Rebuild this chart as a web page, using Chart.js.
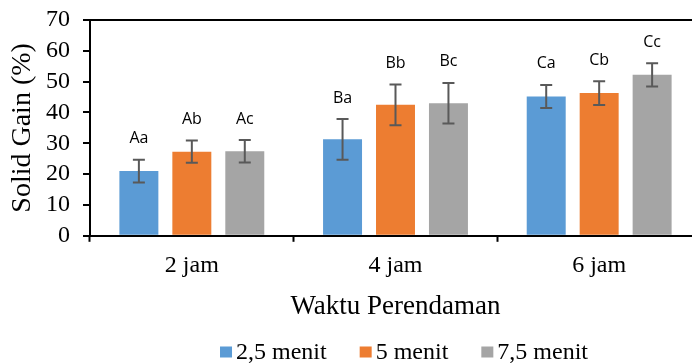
<!DOCTYPE html>
<html>
<head>
<meta charset="utf-8">
<script src="https://cdn.jsdelivr.net/npm/chart.js@4.4.1/dist/chart.umd.min.js"></script>
<style>
  html, body { margin: 0; padding: 0; background: #fff; overflow: hidden; }
  #wrap { position: relative; width: 702px; height: 364px; }
</style>
</head>
<body>
<div id="wrap"><canvas id="c" width="702" height="364"></canvas></div>
<script>
const categories = ['2 jam', '4 jam', '6 jam'];
const seriesNames = ['2,5 menit', '5 menit', '7,5 menit'];
const values25 = [21.0, 31.3, 45.2];
const values5 = [27.3, 42.5, 46.3];
const values75 = [27.4, 43.0, 52.2];
const errors25 = [3.7, 6.6, 3.75];
const errors5 = [3.6, 6.6, 3.85];
const errors75 = [3.65, 6.6, 3.75];
const labels25 = ['Aa', 'Ba', 'Ca'];
const labels5 = ['Ab', 'Bb', 'Cb'];
const labels75 = ['Ac', 'Bc', 'Cc'];
const yTicks = [0, 10, 20, 30, 40, 50, 60, 70];
const colors = ['#5B9BD5', '#ED7D31', '#A5A5A5'];

const errs = [errors25, errors5, errors75];
const sigLabels = [labels25, labels5, labels75];
const SERIF = '"Liberation Serif", "Times New Roman", serif';

const errorBarPlugin = {
  id: 'errorBars',
  afterDatasetsDraw(chart) {
    const ctx = chart.ctx;
    const y = chart.scales.y;
    ctx.save();
    chart.data.datasets.forEach((ds, di) => {
      const meta = chart.getDatasetMeta(di);
      meta.data.forEach((bar, i) => {
        const v = ds.data[i];
        const e = errs[di][i];
        const yt = y.getPixelForValue(v + e);
        const yb = y.getPixelForValue(v - e);
        const x = bar.x;
        ctx.strokeStyle = '#595959';
        ctx.lineWidth = 2;
        ctx.beginPath();
        ctx.moveTo(x, yt); ctx.lineTo(x, yb);
        ctx.moveTo(x - 6, yt); ctx.lineTo(x + 6, yt);
        ctx.moveTo(x - 6, yb); ctx.lineTo(x + 6, yb);
        ctx.stroke();
        ctx.fillStyle = '#000';
        ctx.font = '16px "Open Sans", "Liberation Sans", sans-serif';
        ctx.textAlign = 'center';
        ctx.textBaseline = 'middle';
        ctx.fillText(sigLabels[di][i], x, yt - 21);
      });
    });
    ctx.restore();
  }
};

const legendPlugin = {
  id: 'customLegend',
  afterDraw(chart) {
    const ctx = chart.ctx;
    const area = chart.chartArea;
    ctx.save();
    ctx.font = '24px ' + SERIF;
    ctx.textBaseline = 'middle';
    ctx.textAlign = 'left';
    const boxW = 12, boxH = 11, gapText = 4, gapItem = 33;
    let total = 0;
    const widths = seriesNames.map(n => ctx.measureText(n).width);
    widths.forEach((w, i) => { total += boxW + gapText + w + (i < widths.length - 1 ? gapItem : 0); });
    const cx = (area.left + area.right) / 2 + 8.5;
    let x = cx - total / 2;
    const yc = 353;
    seriesNames.forEach((n, i) => {
      ctx.fillStyle = colors[i];
      ctx.fillRect(x, yc - boxH / 2 - 1, boxW, boxH);
      x += boxW + gapText;
      ctx.fillStyle = '#000';
      ctx.fillText(n, x, yc);
      x += widths[i] + gapItem;
    });
    ctx.restore();
  }
};

new Chart(document.getElementById('c'), {
  type: 'bar',
  data: {
    labels: categories,
    datasets: [
      { label: seriesNames[0], data: values25, backgroundColor: colors[0] },
      { label: seriesNames[1], data: values5, backgroundColor: colors[1] },
      { label: seriesNames[2], data: values75, backgroundColor: colors[2] }
    ]
  },
  options: {
    responsive: false,
    animation: false,
    datasets: { bar: { categoryPercentage: 0.78, barPercentage: 0.736 } },
    layout: { padding: { top: 20, right: 1, left: 0, bottom: 37 } },
    plugins: {
      tooltip: { enabled: false },
      legend: { display: false }
    },
    scales: {
      x: {
        offset: true,
        grid: { offset: true, drawOnChartArea: false, drawTicks: true, tickLength: 6, tickColor: '#000', tickWidth: 2 },
        border: { color: '#000', width: 2 },
        ticks: { color: '#000', padding: 10, font: { family: SERIF, size: 24 } },
        title: { display: true, text: 'Waktu Perendaman', color: '#000', padding: { top: 0, bottom: 4 }, font: { family: SERIF, size: 27 } }
      },
      y: {
        min: 0, max: 70,
        afterBuildTicks(axis) { axis.ticks = yTicks.map(v => ({ value: v })); },
        afterFit(axis) { axis.width = 90; axis.paddingTop = 0; axis.paddingBottom = 0; },
        grid: {
          drawOnChartArea: true, drawTicks: true, tickLength: 7,
          color: (c) => (c.tick && c.tick.value === 70 ? '#000' : 'rgba(0,0,0,0)'),
          lineWidth: 2,
          tickColor: '#000', tickWidth: 2
        },
        border: { color: '#000', width: 2 },
        ticks: { autoSkip: false, color: '#000', padding: 13, font: { family: SERIF, size: 24 } },
        title: { display: true, text: 'Solid Gain (%)', color: '#000', padding: { top: 6, bottom: 0 }, font: { family: SERIF, size: 28 } }
      }
    }
  },
  plugins: [errorBarPlugin, legendPlugin]
});
</script>
</body>
</html>
